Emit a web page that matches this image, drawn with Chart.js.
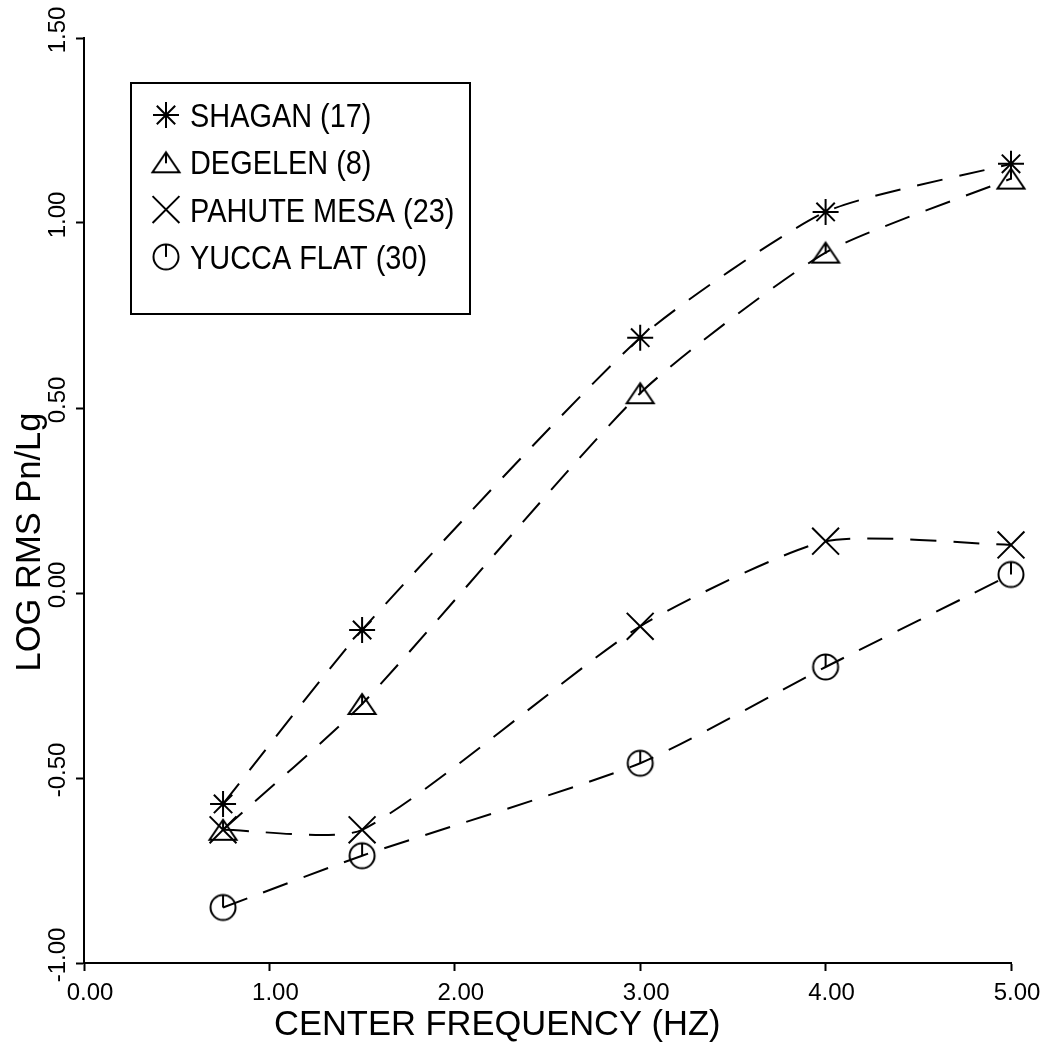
<!DOCTYPE html>
<html><head><meta charset="utf-8">
<script src="https://cdn.jsdelivr.net/npm/chart.js@4.4.1/dist/chart.umd.min.js"></script>
<style>html,body{margin:0;padding:0;background:#fff;}canvas{display:block;}</style>
</head><body>
<canvas id="c" width="1048" height="1046"></canvas>
<script>
const frequencies = [0.75, 1.5, 3, 4, 5];
const shagan = [-0.57, -0.10, 0.69, 1.03, 1.16];
const degelen = [-0.64, -0.30, 0.54, 0.92, 1.12];
const pahuteMesa = [-0.64, -0.64, -0.09, 0.14, 0.13];
const yuccaFlat = [-0.85, -0.71, -0.46, -0.20, 0.05];
const seriesLabels = ['SHAGAN (17)', 'DEGELEN (8)', 'PAHUTE MESA (23)', 'YUCCA FLAT (30)'];
const xTickValues = [0, 1, 2, 3, 4, 5];
const xTickLabels = ['0.00', '1.00', '2.00', '3.00', '4.00', '5.00'];
const yTickValues = [-1, -0.5, 0, 0.5, 1, 1.5];
const yTickLabels = ['-1.00', '-0.50', '0.00', '0.50', '1.00', '1.50'];
const xTitle = 'CENTER FREQUENCY (HZ)';
const yTitle = 'LOG RMS Pn/Lg';

const FONT = '"Liberation Sans", Arial, Helvetica, sans-serif';

function makeTriangle() {
  const c = document.createElement('canvas'); c.width = 32; c.height = 26;
  const g = c.getContext('2d');
  g.strokeStyle = '#000'; g.lineWidth = 2;
  g.beginPath(); g.moveTo(16, 3); g.lineTo(29.5, 23); g.lineTo(2.5, 23); g.closePath(); g.stroke();
  g.beginPath(); g.moveTo(16, 4); g.lineTo(16, 14); g.stroke();
  return c;
}
function makeYucca() {
  const c = document.createElement('canvas'); c.width = 32; c.height = 32;
  const g = c.getContext('2d');
  g.strokeStyle = '#000'; g.lineWidth = 2;
  g.beginPath(); g.arc(16, 16, 12.5, 0, Math.PI * 2); g.stroke();
  g.beginPath(); g.moveTo(16, 3.5); g.lineTo(16, 16); g.stroke();
  return c;
}

const styles = ['star', makeTriangle(), 'crossRot', makeYucca()];
const radii = [13, 14, 19, 14];
const seriesValues = [shagan, degelen, pahuteMesa, yuccaFlat];

const datasets = seriesValues.map((vals, k) => ({
  label: seriesLabels[k],
  data: frequencies.map((x, i) => ({ x: x, y: vals[i] })),
  borderColor: '#000', borderWidth: 2, borderDash: [26, 17], fill: false,
  pointStyle: styles[k], pointRadius: radii[k], pointHoverRadius: radii[k],
  pointBorderColor: '#000', pointBackgroundColor: 'rgba(0,0,0,0)', pointBorderWidth: 2,
  tension: 0.2, clip: false
}));

const overlay = {
  id: 'overlay',
  afterDraw(chart) {
    const ctx = chart.ctx, a = chart.chartArea;
    ctx.save();
    ctx.fillStyle = '#000'; ctx.strokeStyle = '#000';
    ctx.font = '34.5px ' + FONT;
    ctx.textAlign = 'left'; ctx.textBaseline = 'alphabetic';
    ctx.fillText(xTitle, a.left + 190, a.bottom + 72);
    ctx.save();
    ctx.translate(a.left - 44, a.top + 504);
    ctx.rotate(-Math.PI / 2);
    ctx.textAlign = 'center';
    ctx.fillText(yTitle, 0, 0);
    ctx.restore();
    // legend box
    const bx = a.left + 47, by = a.top + 45, bw = 339, bh = 231;
    ctx.lineWidth = 2;
    ctx.strokeRect(bx, by, bw, bh);
    chart.data.datasets.forEach((d, i) => {
      const cy = by + 32 + i * 47.3;
      ctx.save();
      ctx.lineWidth = 2; ctx.strokeStyle = '#000'; ctx.fillStyle = 'rgba(0,0,0,0)';
      Chart.helpers.drawPoint(ctx, { pointStyle: d.pointStyle, radius: d.pointRadius, borderWidth: 2, rotation: 0 }, bx + 35, cy);
      ctx.restore();
      ctx.save();
      ctx.fillStyle = '#000';
      ctx.font = '34px ' + FONT;
      ctx.translate(bx + 59, cy + 12);
      ctx.scale(0.85, 1);
      ctx.fillText(d.label, 0, 0);
      ctx.restore();
    });
    ctx.restore();
  }
};

new Chart(document.getElementById('c'), {
  type: 'line',
  data: { datasets: datasets },
  plugins: [overlay],
  options: {
    responsive: false, animation: false, devicePixelRatio: 1,
    layout: { padding: { top: 38, right: 37, left: 0, bottom: 0 } },
    plugins: { legend: { display: false }, tooltip: { enabled: false } },
    events: [],
    scales: {
      x: {
        type: 'linear', position: 'bottom', min: 0, max: 5,
        afterFit(s) { s.height = 83; },
        afterBuildTicks(s) { s.ticks = xTickValues.map(v => ({ value: v })); },
        ticks: {
          callback: (v) => xTickLabels[xTickValues.indexOf(v)],
          font: { family: FONT, size: 24 }, color: '#000', padding: 8, labelOffset: 6,
          maxRotation: 0, minRotation: 0, autoSkip: false
        },
        grid: { display: true, drawOnChartArea: false, drawTicks: true, tickLength: 8, tickWidth: 2, tickColor: '#000' },
        border: { display: true, color: '#000', width: 2 }
      },
      y: {
        type: 'linear', position: 'left', min: -1, max: 1.5,
        afterFit(s) { s.width = 84; },
        afterBuildTicks(s) { s.ticks = yTickValues.map(v => ({ value: v })); },
        ticks: {
          callback: (v) => yTickLabels[yTickValues.indexOf(v)],
          font: { family: FONT, size: 24 }, color: '#000', labelOffset: -8,
          minRotation: 90, maxRotation: 90, crossAlign: 'center', padding: -10, autoSkip: false
        },
        grid: { display: true, drawOnChartArea: false, drawTicks: true, tickLength: 8, tickWidth: 2, tickColor: '#000' },
        border: { display: true, color: '#000', width: 2 }
      }
    }
  }
});
</script>
</body></html>
